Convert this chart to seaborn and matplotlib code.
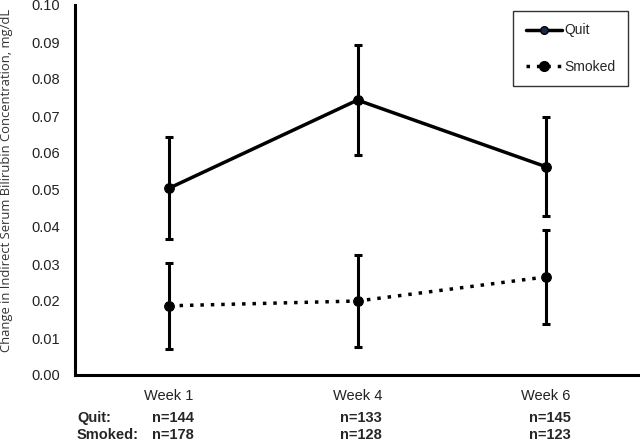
import matplotlib
matplotlib.use("Agg")
import matplotlib.pyplot as plt
import seaborn as sns
import pandas as pd
from matplotlib.lines import Line2D
from matplotlib.transforms import blended_transform_factory

weeks = ["Week 1", "Week 4", "Week 6"]
quit_mean = [0.0505, 0.0743, 0.0563]
quit_err = [0.0138, 0.0149, 0.0133]
smoked_mean = [0.0187, 0.0200, 0.0265]
smoked_err = [0.0117, 0.0123, 0.0128]
quit_n = ["n=144", "n=133", "n=145"]
smoked_n = ["n=178", "n=128", "n=123"]

sns.set_theme(style="white")
plt.rcParams["font.family"] = ["Liberation Sans", "DejaVu Sans"]

df = pd.DataFrame({
    "pos": list(range(len(weeks))) * 2,
    "value": quit_mean + smoked_mean,
    "group": ["Quit"] * 3 + ["Smoked"] * 3,
})

fig = plt.figure(figsize=(6.4, 4.41), dpi=100)
ax = fig.add_axes([75 / 640, 1 - 375 / 441, 565 / 640, 370 / 441])

sns.lineplot(data=df[df.group == "Quit"], x="pos", y="value", ax=ax,
             color="black", linewidth=2.5, marker="o", markersize=7,
             markeredgecolor="black", legend=False)
sns.lineplot(data=df[df.group == "Smoked"], x="pos", y="value", ax=ax,
             color="black", linewidth=2.5, linestyle=(0, (1, 2.0)), marker="o",
             markersize=7, markeredgecolor="black", legend=False)

x = list(range(len(weeks)))
ax.errorbar(x, quit_mean, yerr=quit_err, fmt="none", ecolor="black",
            elinewidth=2.2, capsize=3, capthick=2.2)
ax.errorbar(x, smoked_mean, yerr=smoked_err, fmt="none", ecolor="black",
            elinewidth=2.2, capsize=3, capthick=2.2)

ax.set_xlim(-0.5, 2.5)
ax.set_ylim(0, 0.10)
ax.set_yticks([i / 100 for i in range(11)])
ax.set_yticklabels([f"{i/100:.2f}" for i in range(11)], fontsize=10.5)
ax.set_xticks(x)
ax.set_xticklabels(weeks, fontsize=10.5)
ax.tick_params(axis="y", direction="in", length=4, width=1.5, pad=11, colors="black")
ax.tick_params(axis="x", length=0, pad=10, colors="black")
for lab in ax.get_yticklabels() + ax.get_xticklabels():
    lab.set_color("#222222")

for s in ["top", "right"]:
    ax.spines[s].set_visible(False)
for s in ["left", "bottom"]:
    ax.spines[s].set_color("black")
    ax.spines[s].set_linewidth(2.2)

ax.set_xlabel("")
ax.set_ylabel("Change in Indirect Serum Bilirubin Concentration, mg/dL",
              fontsize=9.4, family=["Open Sans", "DejaVu Sans"], color="#333333")
ax.yaxis.set_label_coords(-0.11, 0.525)

trans = blended_transform_factory(ax.transData, ax.transAxes)
ftrans = blended_transform_factory(fig.transFigure, ax.transAxes)
ax.text(77 / 640, -0.116, "Quit:", transform=ftrans, fontsize=10.5,
        fontweight="bold", va="center", ha="left", clip_on=False)
ax.text(77 / 640, -0.162, "Smoked:", transform=ftrans, fontsize=10.5,
        fontweight="bold", va="center", ha="left", clip_on=False)
for i in range(len(weeks)):
    ax.text(x[i] + 0.02, -0.116, quit_n[i], transform=trans, fontsize=10.5,
            fontweight="bold", va="center", ha="center", clip_on=False)
    ax.text(x[i] + 0.02, -0.162, smoked_n[i], transform=trans, fontsize=10.5,
            fontweight="bold", va="center", ha="center", clip_on=False)

handles = [
    Line2D([], [], color="black", lw=2.5, marker="o", markersize=5.5,
           markerfacecolor="#1a2a4a", markeredgecolor="black"),
    Line2D([], [], color="black", lw=2.5, linestyle=(0, (1, 2.0)), marker="o",
           markersize=7, markerfacecolor="black", markeredgecolor="black"),
]
leg = ax.legend(handles, ["Quit", "Smoked"], loc="upper right",
                bbox_to_anchor=(0.979, 0.984), frameon=True, fancybox=False,
                edgecolor="black", fontsize=10, handlelength=2.6,
                handletextpad=0.2, labelspacing=1.6, borderpad=0.9,
                borderaxespad=0)
leg.get_frame().set_linewidth(1.0)

fig.savefig("out.png", dpi=100)
